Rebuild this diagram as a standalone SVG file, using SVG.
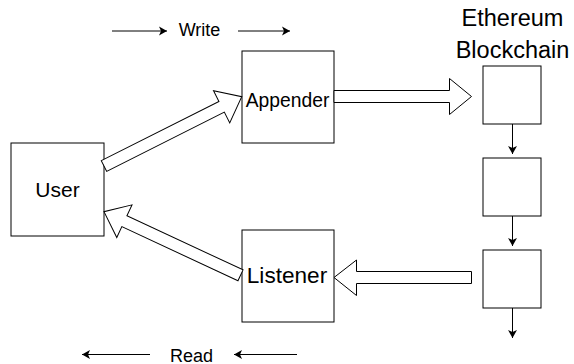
<svg xmlns="http://www.w3.org/2000/svg" width="574" height="364" viewBox="0 0 574 364">
  <style>
    .box { fill: #ffffff; stroke: #000000; stroke-width: 1; }
    .flex { fill: #ffffff; stroke: #000000; stroke-width: 1; stroke-linejoin: miter; }
    .thin { fill: none; stroke: #000000; stroke-width: 1; }
    text { font-family: "Liberation Sans", Helvetica, Arial, sans-serif; fill: #000000; text-anchor: middle; }
  </style>
  <defs>
    <marker id="ah" markerWidth="10" markerHeight="10" refX="9" refY="5" orient="auto" markerUnits="userSpaceOnUse">
      <path d="M1,0.5 L9,5 L1,9.5 L3,5 Z" fill="#000000"/>
    </marker>
  </defs>

  <!-- direction hints -->
  <g id="write-label">
    <line class="thin" x1="112" y1="31" x2="167" y2="31" marker-end="url(#ah)"/>
    <text x="199.5" y="36" font-size="18">Write</text>
    <line class="thin" x1="238" y1="31" x2="290" y2="31" marker-end="url(#ah)"/>
  </g>
  <g id="read-label">
    <line class="thin" x1="150" y1="354.5" x2="82" y2="354.5" marker-end="url(#ah)"/>
    <text x="191.5" y="361.5" font-size="18">Read</text>
    <line class="thin" x1="297" y1="354.5" x2="234" y2="354.5" marker-end="url(#ah)"/>
  </g>

  <!-- nodes -->
  <g id="user">
    <rect class="box" x="11" y="143" width="93" height="93"/>
    <text x="57.5" y="197" font-size="21">User</text>
  </g>
  <g id="appender">
    <rect class="box" x="242" y="51" width="92" height="92"/>
    <text x="287.5" y="106.5" font-size="19.3">Appender</text>
  </g>
  <g id="listener">
    <rect class="box" x="242" y="230" width="92" height="92"/>
    <text x="287" y="282.5" font-size="22.6">Listener</text>
  </g>
  <g id="blockchain-title">
    <text x="512.5" y="26" font-size="23.5">Ethereum</text>
    <text x="512.5" y="58" font-size="23.5">Blockchain</text>
  </g>
  <g id="block-1"><rect class="box" x="483" y="66" width="58" height="58"/></g>
  <g id="block-2"><rect class="box" x="483" y="158" width="58" height="58"/></g>
  <g id="block-3"><rect class="box" x="483" y="250" width="58" height="58"/></g>

  <!-- connectors -->
  <g id="connectors">
    <path class="flex" transform="translate(104,166) rotate(-26.72)" d="M0,-6 H131.7 V-18 L154.2,0 L131.7,18 V6 H0 Z"/>
    <path class="flex" transform="translate(240.5,275.3) rotate(-155.02)" d="M0,-6 H128.1 V-18 L150.6,0 L128.1,18 V6 H0 Z"/>
    <path class="flex" d="M334,90.5 H449.5 V78.5 L471.5,96.5 L449.5,114.5 V102.5 H334 Z"/>
    <path class="flex" d="M471.5,271.5 H356.5 V260 L334,277.5 L356.5,295.5 V283.5 H471.5 Z"/>
    <line class="thin" x1="512.5" y1="124" x2="512.5" y2="154" marker-end="url(#ah)"/>
    <line class="thin" x1="512.5" y1="216" x2="512.5" y2="246" marker-end="url(#ah)"/>
    <line class="thin" x1="512.5" y1="308" x2="512.5" y2="338" marker-end="url(#ah)"/>
  </g>
</svg>
